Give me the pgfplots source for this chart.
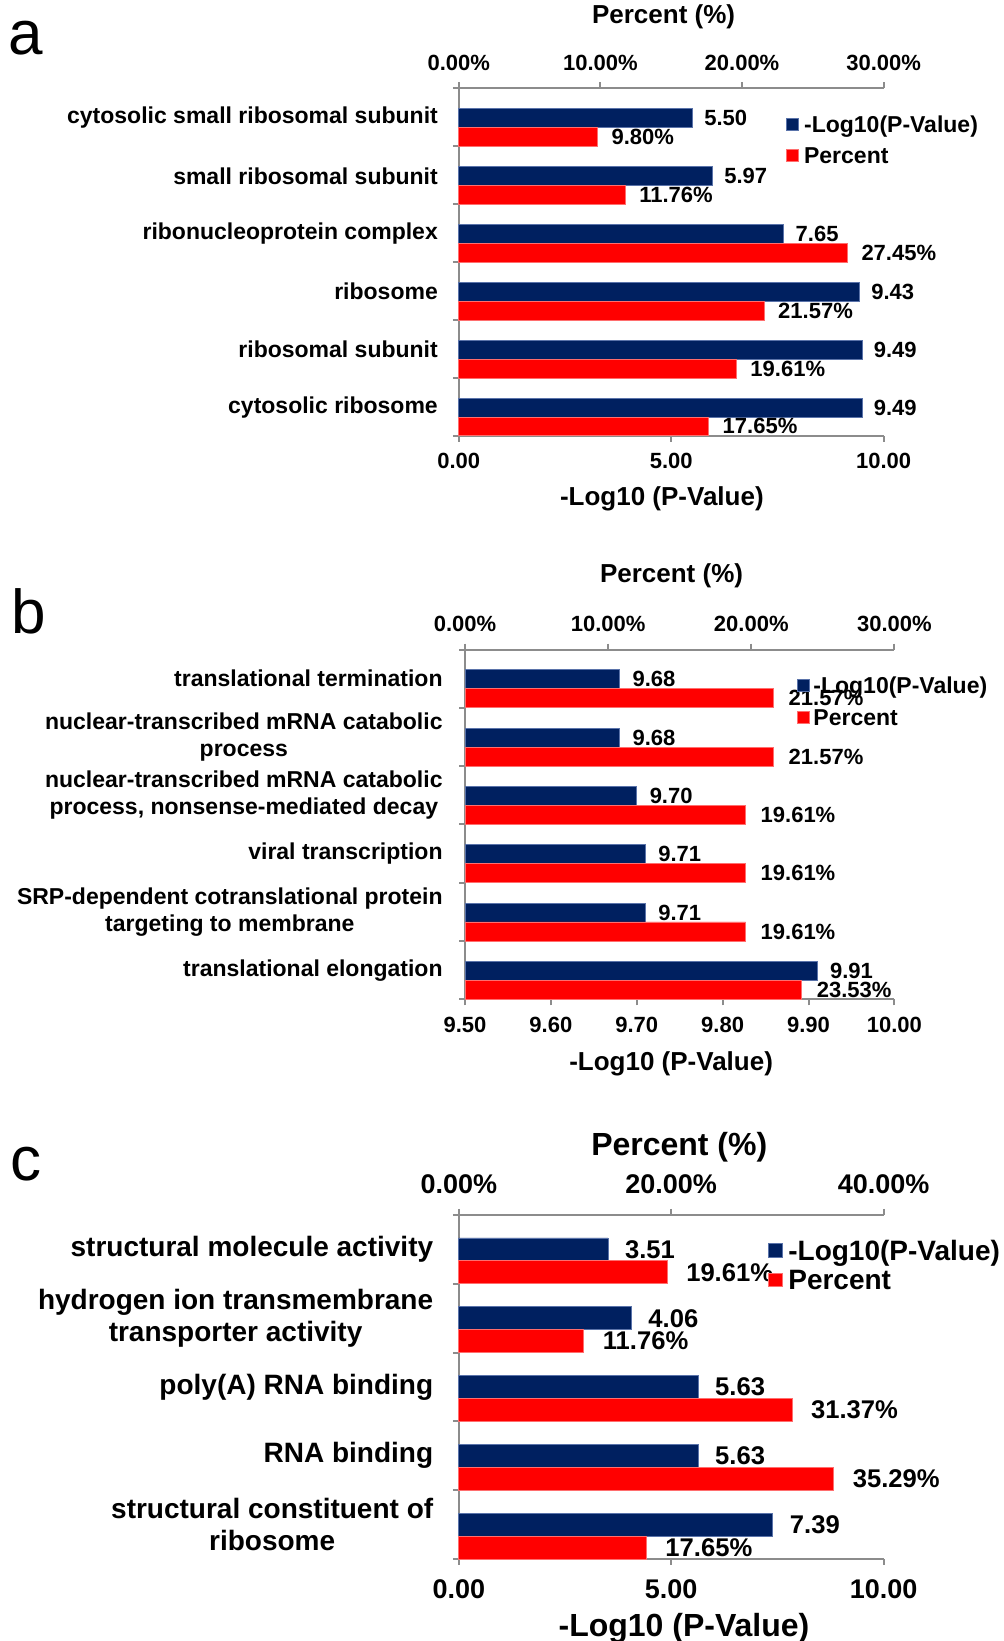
\documentclass[border=0pt]{standalone}
\usepackage{pgfplots}
\pgfplotsset{compat=1.18}
\usepackage{fontspec}
\setmainfont{Liberation Sans}
\definecolor{navy}{RGB}{0,32,96}
\definecolor{navyedge}{RGB}{90,115,170}
\definecolor{redbar}{RGB}{255,0,0}
\definecolor{rededge}{RGB}{255,110,110}
\definecolor{axgray}{RGB}{140,140,140}
\newcommand{\fa}{\bfseries\fontsize{11.5}{13.6}\selectfont}
\newcommand{\fc}{\bfseries\fontsize{14}{15.7}\selectfont}
\newcommand{\ftab}{\bfseries\fontsize{11}{13}\selectfont}
\newcommand{\ftc}{\bfseries\fontsize{13.5}{15}\selectfont}
\newcommand{\fdab}{\bfseries\fontsize{11}{13}\selectfont}
\newcommand{\fdc}{\bfseries\fontsize{12.8}{14}\selectfont}
\newcommand{\ftitab}{\bfseries\fontsize{13}{15}\selectfont}
\newcommand{\ftitc}{\bfseries\fontsize{16}{18}\selectfont}
\pgfplotsset{
  common/.style={
    scale only axis, anchor=south west, clip=false,
    /pgf/number format/assume math mode=true,
    axis line style={draw=axgray, line width=1pt},
    tick style={draw=axgray, line width=1pt},
    tick align=outside, major tick length=3pt,
  },
  logaxis/.style={common, axis x line*=bottom, axis y line*=left,
    xticklabel={\pgfmathprintnumber[fixed,fixed zerofill,precision=2]{\tick}},
  },
  pctaxis/.style={common, axis x line*=top, axis y line=none,
    xticklabel={\pgfmathprintnumber[fixed,fixed zerofill,precision=2]{\tick}\%},
  },
  bluebar/.style={xbar, bar width=#1, bar shift=0pt, fill=navy, draw=navyedge, line width=0.4pt},
  redbar/.style={xbar, bar width=#1, bar shift=0pt, fill=redbar, draw=rededge, line width=0.4pt, forget plot},
  numlab/.style n args={3}{nodes near coords={\pgfmathprintnumber[fixed,fixed zerofill,precision=2]{\pgfplotspointmeta}#1},
    point meta=x,
    every node near coord/.append style={anchor=west, inner sep=0pt, xshift=#2, font=#3, text=black}},
}
\begin{document}
\begin{tikzpicture}
\useasboundingbox (0,0) rectangle (501.5pt,820.5pt);
\node[anchor=base west, inner sep=0pt, font=\fontsize{31}{31}\selectfont] at (4.2pt,793.25pt) {a};
\node[anchor=base west, inner sep=0pt, font=\fontsize{31}{31}\selectfont] at (5.5pt,503.75pt) {b};
\node[anchor=base west, inner sep=0pt, font=\fontsize{31}{31}\selectfont] at (5.2pt,230pt) {c};

% ---------------- Panel a ----------------
\begin{axis}[logaxis, at={(229.4pt,602.5pt)}, width=212.4pt, height=173.75pt,
  xmin=0, xmax=10, ymin=0, ymax=6, xtick={0,5,10}, ytick={0,1,2,3,4,5,6},
  yticklabels={{cytosolic ribosome},{ribosomal subunit},{ribosome},{ribonucleoprotein complex},{small ribosomal subunit},{cytosolic small ribosomal subunit},{}},
  yticklabel style={font=\fa, align=center, anchor=east, inner sep=0pt, xshift=-7.3pt, yshift=14.2pt},
  xticklabel style={font=\ftab, anchor=center, inner sep=0pt, yshift=-9.4pt},
  xlabel={-Log10 (P-Value)}, xlabel style={font=\ftitab, at={(axis description cs:0.478,0)}, anchor=center, yshift=-31.5pt},
]
\addplot[bluebar=0.325, numlab={}{5.75pt}{\fdab}] coordinates {(9.49,0.49) (9.49,1.49) (9.43,2.49) (7.65,3.49) (5.97,4.49) (5.50,5.49)};
\end{axis}
\begin{axis}[pctaxis, at={(229.4pt,602.5pt)}, width=212.4pt, height=173.75pt,
  xmin=0, xmax=30, ymin=0, ymax=6, xtick={0,10,20,30},
  xticklabel style={font=\ftab, anchor=center, inner sep=0pt, yshift=9.9pt},
  xlabel={Percent (\%)}, xlabel style={font=\ftitab, at={(axis description cs:0.482,1)}, anchor=center, yshift=36pt},
  legend style={at={(0.770,0.846)}, anchor=west, draw=none, fill=none, inner sep=0pt, row sep=4.7pt, font=\fa,
    cells={anchor=base west}, nodes={inner xsep=2.5pt, inner ysep=0pt, text height=8.5pt, text depth=2.5pt}},
  legend image code/.code={\fill[#1] (-3pt,0.9pt) rectangle (3pt,6.9pt);},
]
\addlegendimage{fill=navy, draw=navyedge, line width=0.4pt}
\addlegendentry{-Log10(P-Value)}
\addlegendimage{fill=redbar, draw=rededge, line width=0.4pt}
\addlegendentry{Percent}
\addplot[redbar=0.325, numlab={\%}{6.8pt}{\fdab}] coordinates {(17.65,0.165) (19.61,1.165) (21.57,2.165) (27.45,3.165) (11.76,4.165) (9.80,5.165)};
\end{axis}

% ---------------- Panel b ----------------
\begin{axis}[logaxis, clip=true, at={(232.5pt,320.8pt)}, width=214.7pt, height=174.9pt,
  xmin=9.5, xmax=10, ymin=0, ymax=6, xtick={9.5,9.6,9.7,9.8,9.9,10}, ytick={0,1,2,3,4,5,6},
  yticklabels={{translational elongation},{SRP-dependent cotranslational protein\\targeting to membrane},{viral transcription},{nuclear-transcribed mRNA catabolic\\process, nonsense-mediated decay},{nuclear-transcribed mRNA catabolic\\process},{translational termination},{}},
  yticklabel style={font=\fa, align=center, anchor=east, inner sep=0pt, xshift=-8pt, yshift=14.575pt},
  xticklabel style={font=\ftab, anchor=center, inner sep=0pt, yshift=-9.8pt},
  xlabel={-Log10 (P-Value)}, xlabel style={font=\ftitab, at={(axis description cs:0.48,0)}, anchor=center, yshift=-32.3pt},
]
\addplot[bluebar=0.325, numlab={}{6.3pt}{\fdab}] coordinates {(9.91,0.49) (9.71,1.49) (9.71,2.49) (9.70,3.49) (9.68,4.49) (9.68,5.49)};
\end{axis}
\begin{axis}[pctaxis, at={(232.5pt,320.8pt)}, width=214.7pt, height=174.9pt,
  xmin=0, xmax=30, ymin=0, ymax=6, xtick={0,10,20,30},
  xticklabel style={font=\ftab, anchor=center, inner sep=0pt, yshift=9.8pt},
  xlabel={Percent (\%)}, xlabel style={font=\ftitab, at={(axis description cs:0.481,1)}, anchor=center, yshift=36.8pt},
  legend style={at={(0.773,0.846)}, anchor=west, draw=none, fill=none, inner sep=0pt, row sep=4.9pt, font=\fa,
    cells={anchor=base west}, nodes={inner xsep=1.65pt, inner ysep=0pt, text height=8.5pt, text depth=2.5pt}},
  legend image code/.code={\fill[#1] (-3pt,0.9pt) rectangle (3pt,6.9pt);},
]
\addlegendimage{fill=navy, draw=navyedge, line width=0.4pt}
\addlegendentry{-Log10(P-Value)}
\addlegendimage{fill=redbar, draw=rededge, line width=0.4pt}
\addlegendentry{Percent}
\addplot[redbar=0.325, numlab={\%}{7.3pt}{\fdab}] coordinates {(23.53,0.165) (19.61,1.165) (19.61,2.165) (19.61,3.165) (21.57,4.165) (21.57,5.165)};
\end{axis}

% ---------------- Panel c ----------------
\begin{axis}[logaxis, at={(229.4pt,41pt)}, width=212.4pt, height=172pt,
  xmin=0, xmax=10, ymin=0, ymax=5, xtick={0,5,10}, ytick={0,1,2,3,4,5},
  yticklabels={{structural constituent of\\ribosome},{RNA binding},{poly(A) RNA binding},{hydrogen ion transmembrane\\transporter activity},{structural molecule activity},{}},
  yticklabel style={font=\fc, align=center, anchor=east, inner sep=0pt, xshift=-9.6pt, yshift=17.2pt},
  xticklabel style={font=\ftc, anchor=center, inner sep=0pt, yshift=-12.25pt},
  xlabel={-Log10 (P-Value)}, xlabel style={font=\ftitc, at={(axis description cs:0.53,0)}, anchor=center, yshift=-34.5pt},
]
\addplot[bluebar=0.333, numlab={}{8.4pt}{\fdc}] coordinates {(7.39,0.5) (5.63,1.5) (5.63,2.5) (4.06,3.5) (3.51,4.5)};
\end{axis}
\begin{axis}[pctaxis, at={(229.4pt,41pt)}, width=212.4pt, height=172pt,
  xmin=0, xmax=40, ymin=0, ymax=5, xtick={0,20,40},
  xticklabel style={font=\ftc, anchor=center, inner sep=0pt, yshift=12.5pt},
  xlabel={Percent (\%)}, xlabel style={font=\ftitc, at={(axis description cs:0.519,1)}, anchor=center, yshift=34pt},
  legend style={at={(0.727,0.846)}, anchor=west, draw=none, fill=none, inner sep=0pt, row sep=1.7pt, font=\fc,
    cells={anchor=base west}, nodes={inner xsep=2.95pt, inner ysep=0pt, text height=10pt, text depth=3pt}},
  legend image code/.code={\fill[#1] (-3.4pt,1.4pt) rectangle (3.4pt,8.2pt);},
]
\addlegendimage{fill=navy, draw=navyedge, line width=0.4pt}
\addlegendentry{-Log10(P-Value)}
\addlegendimage{fill=redbar, draw=rededge, line width=0.4pt}
\addlegendentry{Percent}
\addplot[redbar=0.333, numlab={\%}{9.4pt}{\fdc}] coordinates {(17.65,0.167) (35.29,1.167) (31.37,2.167) (11.76,3.167) (19.61,4.167)};
\end{axis}
\end{tikzpicture}
\end{document}
